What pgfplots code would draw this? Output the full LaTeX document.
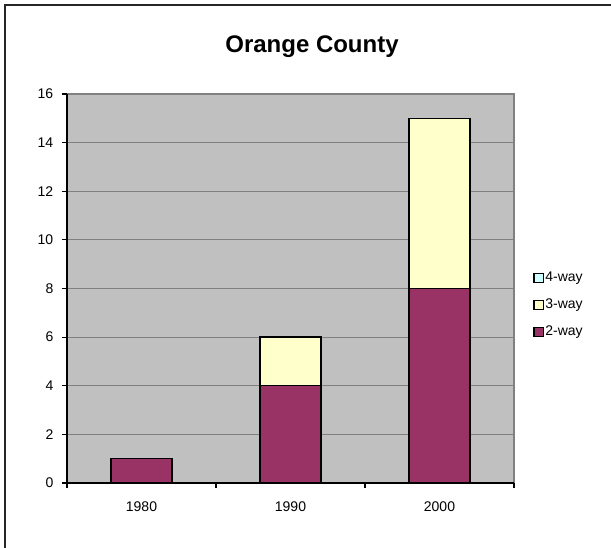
\documentclass[border=0pt]{standalone}
\usepackage{pgfplots}
\pgfplotsset{compat=1.18}
\usepackage{fontspec}
\setmainfont{Liberation Sans}
\definecolor{plotbg}{HTML}{C0C0C0}
\definecolor{gridc}{HTML}{808080}
\definecolor{twoway}{HTML}{993366}
\definecolor{threeway}{HTML}{FFFFCC}
\definecolor{fourway}{HTML}{CCFFFF}
\pgfplotsset{
  boxlegend/.style={legend image code/.code={\draw[##1, line width=1.1pt] (0pt,-3.4pt) rectangle (6.8pt,3.4pt);}}
}
\begin{document}
\begin{tikzpicture}
\begin{axis}[
  scale only axis,
  width=335.25pt, height=291.75pt,
  ybar stacked, bar width=45.75pt,
  xmin=0.5, xmax=3.5, ymin=0, ymax=16,
  ytick={0,2,...,16},
  xtick={0.5,1.5,2.5,3.5}, xticklabels={1980,1990,2000},
  x tick label as interval,
  axis background/.style={fill=plotbg, draw=gridc, line width=1pt},
  ymajorgrids, grid style={gridc, line width=0.9pt},
  axis x line*=bottom, axis y line*=left,
  axis line style={black, line width=1.1pt, -},
  tick align=outside, major tick length=3.75pt,
  tick style={black, line width=0.9pt},
  tick label style={font=\fontsize{10.5}{12}\selectfont},
  /pgf/number format/assume math mode=true,
  xticklabel style={yshift=-6.5pt},
  yticklabel style={xshift=-3pt},
  legend style={at={(1.034,0.553)}, anchor=north west, draw=none, fill=none,
    font=\fontsize{10.5}{12}\selectfont, row sep=9.5pt,
    nodes={inner sep=1pt}},
  reverse legend,
]
\addplot[fill=twoway, draw=black, line width=1.1pt, boxlegend] coordinates {(1,1) (2,4) (3,8)};
\addlegendentry{2-way}
\addplot[fill=threeway, draw=black, line width=1.1pt, boxlegend] coordinates {(1,0) (2,2) (3,7)};
\addlegendentry{3-way}
\addplot[fill=fourway, draw=black, line width=1.1pt, boxlegend] coordinates {(1,0) (2,0) (3,0)};
\addlegendentry{4-way}
\coordinate (O) at (rel axis cs:0,0);
\end{axis}
\begin{scope}[shift={(O)}, x=0.75pt, y=0.75pt]
\node[font=\bfseries\fontsize{18}{20}\selectfont] at (245,436) {Orange County};
\draw[line width=1.5pt, color=black!85] (-61.5,-90) -- (-61.5,477.5) -- (600,477.5);
\pgfresetboundingbox
\useasboundingbox (-67,-65) rectangle (544,483);
\end{scope}
\end{tikzpicture}
\end{document}
